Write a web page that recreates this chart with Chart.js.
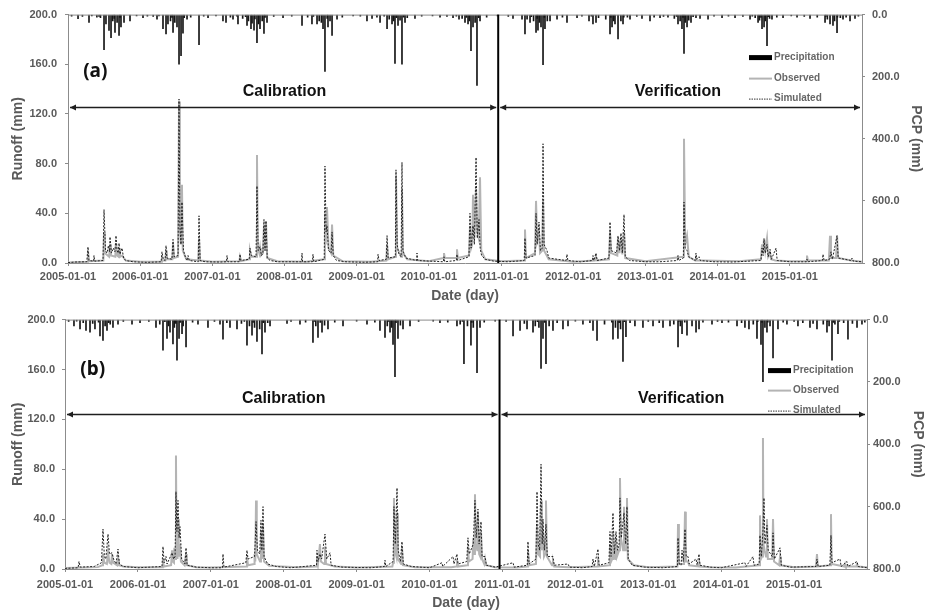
<!DOCTYPE html>
<html>
<head>
<meta charset="utf-8">
<script src="https://cdn.jsdelivr.net/npm/chart.js@4.4.1/dist/chart.umd.min.js"></script>
<style>
  body { margin: 0; background: #fff; }
  .panel { position: absolute; left: 0; width: 927px; height: 306px; }
</style>
</head>
<body>
<div class="panel" style="top:0"><canvas id="chartA" width="927" height="306"></canvas></div>
<div class="panel" style="top:306px"><canvas id="chartB" width="927" height="306"></canvas></div>
<script>
// Axis ticks
const yearTicks = [2005, 2006, 2007, 2008, 2009, 2010, 2011, 2012, 2013, 2014, 2015];
const splitYear = 2010.96; // calibration / verification boundary

// Panel (a) - runoff, [decimal year, mm]
const obsA = [
  [2005.00,0.5],[2005.27,1],[2005.277,10],[2005.29,1.5],[2005.49,2],[2005.499,25],[2005.51,8],[2005.57,5],
  [2005.582,15],[2005.595,6],[2005.655,5],[2005.665,16],[2005.68,6],[2005.70,5],[2005.707,12],[2005.72,5],
  [2005.75,6],[2005.80,2],[2006.00,1],[2006.295,1],[2006.302,6],[2006.31,2],[2006.35,2],[2006.358,10],
  [2006.37,3],[2006.445,3],[2006.455,16],[2006.47,4],[2006.525,5],[2006.538,130],[2006.55,30],[2006.565,15],
  [2006.579,63],[2006.59,10],[2006.64,3],[2006.805,2],[2006.815,20],[2006.83,2],[2007.00,1],[2007.375,1.5],
  [2007.383,5],[2007.40,1.5],[2007.51,3],[2007.521,10],[2007.54,5],[2007.605,5],[2007.618,87],[2007.63,12],
  [2007.65,8],[2007.660,12],[2007.67,6],[2007.70,8],[2007.715,30],[2007.728,10],[2007.743,33],[2007.76,4],
  [2007.90,1.5],[2008.30,1],[2008.55,3],[2008.560,40],[2008.57,15],[2008.588,45],[2008.61,12],[2008.645,8],
  [2008.658,31],[2008.675,6],[2008.80,1.5],[2009.20,1],[2009.41,2],[2009.420,15],[2009.435,3],[2009.535,5],
  [2009.544,70],[2009.56,12],[2009.615,5],[2009.627,60],[2009.64,8],[2009.70,3],[2010.00,1.5],[2010.20,4],
  [2010.209,8],[2010.22,4],[2010.38,4],[2010.389,11],[2010.40,4],[2010.555,6],[2010.569,30],[2010.585,12],
  [2010.60,15],[2010.611,55],[2010.63,20],[2010.653,60],[2010.67,25],[2010.69,20],[2010.708,69],[2010.725,10],
  [2010.78,3],[2011.00,1.5],[2011.32,2],[2011.331,27],[2011.345,4],[2011.47,8],[2011.484,50],[2011.50,18],
  [2011.525,25],[2011.54,8],[2011.57,10],[2011.581,50],[2011.595,10],[2011.66,3],[2012.00,1],[2012.30,2],
  [2012.315,5],[2012.33,2],[2012.495,3],[2012.509,25],[2012.525,8],[2012.61,6],[2012.620,20],[2012.64,8],
  [2012.661,20],[2012.68,7],[2012.703,25],[2012.72,4],[2013.00,1.5],[2013.525,5],[2013.534,100],[2013.55,15],
  [2013.576,22],[2013.60,5],[2013.69,2],[2013.70,5],[2013.71,2],[2013.80,2],[2014.30,1.5],[2014.60,3],
  [2014.615,15],[2014.63,8],[2014.643,20],[2014.66,10],[2014.684,20],[2014.70,5],[2014.726,8],[2014.74,3],
  [2014.80,2],[2015.00,1.5],[2015.23,1.5],[2015.238,6],[2015.25,2],[2015.54,2],[2015.557,22],[2015.57,4],
  [2015.64,4],[2015.654,22],[2015.67,4],[2015.85,2],[2016.00,1]
];
const simA = [
  [2005.00,0.3],[2005.10,0.8],[2005.26,1],[2005.277,13],[2005.29,2],[2005.355,1.5],[2005.360,6],[2005.37,1.5],
  [2005.485,2],[2005.499,43],[2005.52,10],[2005.54,8],[2005.56,14],[2005.575,9],[2005.582,21],[2005.60,8],
  [2005.63,12],[2005.65,9],[2005.665,22],[2005.68,10],[2005.695,8],[2005.707,16],[2005.72,7],[2005.748,12],
  [2005.77,4],[2005.80,2],[2005.90,1],[2006.10,0.5],[2006.29,1],[2006.302,9],[2006.32,3],[2006.345,2],
  [2006.358,14],[2006.37,4],[2006.44,3],[2006.455,19],[2006.47,5],[2006.525,6],[2006.538,132],[2006.55,30],
  [2006.565,15],[2006.579,49],[2006.60,10],[2006.63,4],[2006.655,2],[2006.663,6],[2006.68,2],[2006.805,1],
  [2006.815,38],[2006.83,2],[2006.90,1],[2007.10,0.8],[2007.195,1],[2007.203,6],[2007.215,1],[2007.375,1],
  [2007.383,7],[2007.395,2],[2007.51,3],[2007.521,12],[2007.54,6],[2007.605,5],[2007.618,62],[2007.635,10],
  [2007.660,13],[2007.68,6],[2007.70,8],[2007.715,35],[2007.73,10],[2007.743,34],[2007.76,4],[2007.80,2],
  [2007.90,1],[2008.235,1],[2008.242,8],[2008.25,1],[2008.386,1],[2008.394,7],[2008.405,1],[2008.55,3],
  [2008.560,78],[2008.575,25],[2008.588,30],[2008.61,10],[2008.645,8],[2008.658,25],[2008.675,6],[2008.72,2],
  [2008.85,1],[2009.10,0.6],[2009.29,1],[2009.295,7],[2009.31,2],[2009.41,3],[2009.420,22],[2009.435,4],
  [2009.535,5],[2009.544,75],[2009.56,15],[2009.58,8],[2009.615,5],[2009.627,81],[2009.64,10],[2009.68,4],
  [2009.83,2],[2009.835,8],[2009.845,2],[2010.20,1],[2010.209,5],[2010.22,1],[2010.38,2],[2010.389,7],
  [2010.40,2],[2010.555,5],[2010.569,40],[2010.585,12],[2010.611,30],[2010.63,15],[2010.653,85],[2010.67,20],
  [2010.694,35],[2010.71,12],[2010.73,6],[2010.78,3],[2010.90,1.5],[2011.10,1],[2011.32,2],[2011.331,20],
  [2011.345,4],[2011.47,6],[2011.484,40],[2011.50,15],[2011.525,33],[2011.545,10],[2011.57,12],[2011.581,96],
  [2011.595,15],[2011.636,10],[2011.66,4],[2011.90,2],[2011.913,7],[2011.925,2],[2012.10,1],[2012.265,2],
  [2012.273,6],[2012.285,2],[2012.315,8],[2012.33,2],[2012.495,4],[2012.509,33],[2012.525,10],[2012.60,8],
  [2012.620,22],[2012.64,10],[2012.661,24],[2012.68,8],[2012.703,39],[2012.72,5],[2012.78,2],[2013.00,1],
  [2013.20,1],[2013.44,2],[2013.451,6],[2013.46,2],[2013.525,4],[2013.534,49],[2013.55,12],[2013.576,10],
  [2013.60,5],[2013.69,2],[2013.700,8],[2013.71,3],[2013.742,5],[2013.76,2],[2013.95,1],[2014.20,0.8],
  [2014.60,2],[2014.615,12],[2014.63,6],[2014.643,19],[2014.66,8],[2014.684,15],[2014.70,5],[2014.726,11],
  [2014.745,3],[2014.809,12],[2014.825,2],[2015.00,1],[2015.23,1],[2015.238,3],[2015.25,1],[2015.45,2],
  [2015.460,7],[2015.475,2],[2015.55,3],[2015.571,9],[2015.59,3],[2015.654,22],[2015.67,4],[2015.85,2],
  [2015.862,4],[2015.88,1.5],[2016.00,1]
];
// Panel (a) - precipitation, [decimal year, mm]
const pcpA = [
  [2005.139,13],[2005.291,25],[2005.499,113],[2005.526,30],[2005.568,51],[2005.596,74],[2005.651,57],[2005.707,67],
  [2005.734,40],[2005.776,25],[2005.859,20],[2006.039,10],[2006.233,15],[2006.316,45],[2006.358,62],[2006.385,30],
  [2006.455,57],[2006.510,40],[2006.538,160],[2006.566,132],[2006.593,60],[2006.649,15],[2006.815,97],[2006.940,10],
  [2007.147,20],[2007.189,25],[2007.286,15],[2007.355,30],[2007.480,35],[2007.535,45],[2007.577,50],[2007.618,90],
  [2007.660,45],[2007.715,61],[2007.757,25],[2007.979,10],[2008.242,35],[2008.380,30],[2008.450,30],[2008.533,45],
  [2008.560,183],[2008.602,40],[2008.658,67],[2008.727,15],[2009.142,20],[2009.212,12],[2009.323,25],[2009.420,45],
  [2009.489,30],[2009.530,157],[2009.572,35],[2009.627,160],[2009.669,25],[2009.807,12],[2010.154,8],[2010.334,10],
  [2010.417,15],[2010.500,25],[2010.542,30],[2010.583,116],[2010.611,40],[2010.666,228],[2010.708,20],[2011.165,12],
  [2011.290,15],[2011.331,62],[2011.401,25],[2011.484,57],[2011.511,50],[2011.553,40],[2011.581,161],[2011.608,45],
  [2011.678,20],[2011.775,15],[2011.913,25],[2012.052,10],[2012.218,20],[2012.273,30],[2012.315,25],[2012.509,62],
  [2012.537,40],[2012.578,30],[2012.620,78],[2012.689,30],[2012.786,15],[2012.952,12],[2013.063,20],[2013.202,10],
  [2013.312,8],[2013.451,30],[2013.506,45],[2013.534,125],[2013.576,40],[2013.631,25],[2013.756,12],[2013.867,15],
  [2014.061,10],[2014.241,10],[2014.449,15],[2014.560,25],[2014.615,45],[2014.643,40],[2014.684,100],[2014.753,15],
  [2014.906,10],[2015.100,8],[2015.280,12],[2015.488,25],[2015.557,30],[2015.598,35],[2015.654,58],[2015.737,15],
  [2015.834,20],[2015.903,12],
  // smaller daily totals
  [2005.05,5],[2005.20,6],[2005.40,8],[2005.45,10],[2005.62,20],[2005.68,25],[2005.95,4],[2006.10,5],
  [2006.18,6],[2006.42,20],[2006.48,25],[2006.70,8],[2006.88,5],[2007.05,4],[2007.25,8],[2007.42,12],
  [2007.50,20],[2007.55,28],[2007.64,30],[2007.69,20],[2007.85,6],[2008.10,5],[2008.32,8],[2008.48,20],
  [2008.51,25],[2008.63,20],[2008.80,8],[2008.95,4],[2009.05,5],[2009.28,8],[2009.45,15],[2009.51,20],
  [2009.60,18],[2009.70,10],[2009.90,5],[2010.05,4],[2010.25,6],[2010.46,12],[2010.56,20],[2010.64,25],
  [2010.80,8],[2010.95,4],[2011.10,6],[2011.36,15],[2011.45,20],[2011.53,25],[2011.64,20],[2011.85,8],
  [2012.12,5],[2012.35,10],[2012.45,15],[2012.56,20],[2012.66,20],[2012.75,8],[2012.88,6],[2013.12,8],
  [2013.25,6],[2013.40,12],[2013.48,20],[2013.55,25],[2013.60,18],[2013.70,10],[2013.95,5],[2014.15,5],
  [2014.35,6],[2014.52,10],[2014.58,18],[2014.66,20],[2014.72,12],[2014.82,8],[2015.02,4],[2015.20,6],
  [2015.38,8],[2015.52,15],[2015.62,20],[2015.70,10],[2015.78,8],[2015.95,5],
  [2005.33,4],[2005.43,6],[2005.64,12],[2005.72,9],[2006.26,4],[2006.44,9],[2006.61,10],[2007.34,5],
  [2007.46,7],[2007.59,14],[2007.73,9],[2008.40,6],[2008.59,12],[2009.38,5],[2009.55,10],[2009.65,8],
  [2010.38,5],[2010.52,9],[2010.69,10],[2011.42,7],[2011.50,12],[2011.60,9],[2012.25,5],[2012.52,9],
  [2012.70,8],[2013.43,6],[2013.52,9],[2013.66,7],[2014.48,5],[2014.60,9],[2014.70,7],[2015.50,6],[2015.66,8]
];

// Panel (b) - runoff, [decimal year, mm]
const obsB = [
  [2005.00,0.8],[2005.45,1.5],[2005.51,3],[2005.521,12],[2005.54,5],[2005.575,4],[2005.590,14],[2005.61,5],
  [2005.635,4],[2005.645,12],[2005.66,5],[2005.715,3],[2005.727,8],[2005.74,3],[2005.80,2],[2006.00,1.5],
  [2006.335,1.5],[2006.344,8],[2006.355,2],[2006.455,3],[2006.468,15],[2006.48,6],[2006.495,5],[2006.50,17],
  [2006.51,8],[2006.522,91],[2006.53,20],[2006.543,8],[2006.550,40],[2006.56,10],[2006.577,20],[2006.59,6],
  [2006.64,3],[2006.660,12],[2006.67,3],[2006.80,1.5],[2007.00,1.2],[2007.485,2],[2007.496,10],[2007.51,3],
  [2007.595,4],[2007.60,12],[2007.61,6],[2007.620,55],[2007.63,12],[2007.675,6],[2007.688,30],[2007.70,8],
  [2007.716,35],[2007.73,6],[2007.80,2.5],[2008.20,1.5],[2008.445,2],[2008.456,10],[2008.47,4],[2008.497,20],
  [2008.51,6],[2008.555,4],[2008.566,18],[2008.58,4],[2008.70,2],[2009.00,1.2],[2009.49,2],[2009.50,5],
  [2009.512,57],[2009.525,15],[2009.545,10],[2009.554,45],[2009.565,8],[2009.61,4],[2009.622,18],[2009.635,3],
  [2009.80,1.5],[2010.30,1.5],[2010.365,2],[2010.376,8],[2010.39,2],[2010.515,3],[2010.527,18],[2010.54,6],
  [2010.59,8],[2010.60,25],[2010.61,12],[2010.623,60],[2010.635,20],[2010.655,15],[2010.664,45],[2010.68,12],
  [2010.695,10],[2010.706,30],[2010.72,8],[2010.75,4],[2010.761,8],[2010.775,3],[2010.90,1.5],[2011.20,1.2],
  [2011.34,2],[2011.350,15],[2011.365,3],[2011.46,4],[2011.474,35],[2011.49,12],[2011.515,10],[2011.529,55],
  [2011.54,15],[2011.556,30],[2011.57,10],[2011.585,12],[2011.597,55],[2011.61,10],[2011.68,3],[2011.693,6],
  [2011.71,2],[2011.90,1.5],[2012.30,2],[2012.310,10],[2012.32,2],[2012.465,3],[2012.475,20],[2012.49,6],
  [2012.505,8],[2012.516,30],[2012.53,10],[2012.545,8],[2012.557,25],[2012.57,10],[2012.60,15],[2012.612,73],
  [2012.625,25],[2012.655,15],[2012.667,50],[2012.68,15],[2012.695,15],[2012.708,57],[2012.72,8],[2012.80,3],
  [2013.00,1.5],[2013.40,2],[2013.408,36],[2013.42,4],[2013.49,4],[2013.504,46],[2013.515,6],[2013.545,6],
  [2013.56,3],[2013.69,2],[2013.70,5],[2013.71,2],[2013.85,1.5],[2014.20,1.2],[2014.52,3],[2014.532,43],
  [2014.545,8],[2014.56,10],[2014.573,105],[2014.58,20],[2014.595,15],[2014.615,10],[2014.628,40],[2014.64,8],
  [2014.70,8],[2014.711,40],[2014.725,6],[2014.795,3],[2014.807,10],[2014.82,3],[2015.00,1.5],[2015.30,2],
  [2015.314,12],[2015.325,2],[2015.495,3],[2015.506,44],[2015.515,4],[2015.69,2],[2015.70,4],[2015.71,2],
  [2015.85,2],[2015.86,5],[2015.87,2],[2016.00,1.5]
];
const simB = [
  [2005.00,0.5],[2005.18,1],[2005.192,6],[2005.21,1.5],[2005.40,2],[2005.50,5],[2005.521,32],[2005.54,10],
  [2005.56,8],[2005.590,28],[2005.61,12],[2005.645,13],[2005.665,8],[2005.70,4],[2005.727,16],[2005.745,4],
  [2005.80,2],[2006.00,1],[2006.33,2],[2006.344,18],[2006.36,5],[2006.385,10],[2006.40,4],[2006.468,13],
  [2006.49,8],[2006.51,10],[2006.522,62],[2006.535,30],[2006.550,55],[2006.565,25],[2006.577,34],[2006.60,8],
  [2006.645,4],[2006.660,17],[2006.675,3],[2006.80,1.5],[2007.00,1],[2007.16,1],[2007.167,12],[2007.18,1.5],
  [2007.48,5],[2007.496,15],[2007.51,8],[2007.60,10],[2007.620,38],[2007.64,15],[2007.67,12],[2007.688,39],
  [2007.70,15],[2007.716,50],[2007.73,10],[2007.78,4],[2007.90,2],[2008.10,1],[2008.45,3],[2008.456,15],
  [2008.47,6],[2008.497,12],[2008.52,8],[2008.566,28],[2008.59,8],[2008.635,13],[2008.65,3],[2008.80,1.5],
  [2009.20,1],[2009.38,2],[2009.389,7],[2009.40,2],[2009.50,6],[2009.512,50],[2009.53,20],[2009.554,65],
  [2009.57,15],[2009.60,6],[2009.622,22],[2009.64,4],[2009.75,2],[2010.00,1],[2010.171,5],[2010.18,2],
  [2010.322,10],[2010.335,4],[2010.376,12],[2010.39,4],[2010.51,6],[2010.527,25],[2010.545,12],[2010.60,20],
  [2010.623,55],[2010.64,25],[2010.664,48],[2010.68,20],[2010.706,38],[2010.72,10],[2010.761,10],[2010.78,3],
  [2010.90,1.5],[2011.145,5],[2011.16,1.5],[2011.34,3],[2011.350,22],[2011.365,4],[2011.46,8],[2011.474,62],
  [2011.49,20],[2011.51,15],[2011.529,84],[2011.545,20],[2011.556,40],[2011.575,15],[2011.597,36],[2011.615,10],
  [2011.693,10],[2011.71,3],[2011.899,4],[2011.92,1.5],[2012.10,1],[2012.23,2],[2012.242,8],[2012.26,2],
  [2012.310,16],[2012.325,3],[2012.46,5],[2012.475,30],[2012.49,10],[2012.516,45],[2012.535,12],[2012.557,30],
  [2012.58,15],[2012.60,20],[2012.612,57],[2012.63,25],[2012.667,45],[2012.69,20],[2012.708,50],[2012.725,8],
  [2012.78,3],[2012.95,1.5],[2013.20,1],[2013.40,2],[2013.408,25],[2013.425,4],[2013.45,3],[2013.463,15],
  [2013.48,6],[2013.504,32],[2013.52,10],[2013.545,10],[2013.56,4],[2013.655,8],[2013.67,3],[2013.696,12],
  [2013.71,3],[2013.85,1.5],[2014.00,1],[2014.326,5],[2014.34,2],[2014.436,10],[2014.45,3],[2014.52,4],
  [2014.532,27],[2014.55,10],[2014.573,30],[2014.587,57],[2014.60,20],[2014.628,35],[2014.645,15],[2014.70,10],
  [2014.711,29],[2014.73,8],[2014.807,17],[2014.825,3],[2014.95,1.5],[2015.30,2],[2015.314,8],[2015.33,2],
  [2015.49,3],[2015.506,27],[2015.52,5],[2015.630,8],[2015.645,2],[2015.725,6],[2015.74,2],[2015.863,6],
  [2015.88,2],[2016.00,1]
];
// Panel (b) - precipitation, [decimal year, mm]
const pcpB = [
  [2005.123,20],[2005.206,30],[2005.288,35],[2005.343,40],[2005.411,30],[2005.480,52],[2005.521,67],[2005.576,35],
  [2005.658,25],[2005.727,15],[2005.919,15],[2006.029,10],[2006.248,25],[2006.344,98],[2006.399,60],[2006.440,40],
  [2006.481,78],[2006.536,130],[2006.564,60],[2006.605,45],[2006.660,88],[2006.824,15],[2006.961,25],[2007.126,15],
  [2007.167,63],[2007.263,25],[2007.359,30],[2007.496,82],[2007.565,50],[2007.633,70],[2007.702,110],[2007.743,40],
  [2007.812,20],[2008.045,12],[2008.223,15],[2008.401,73],[2008.470,57],[2008.525,40],[2008.607,30],[2008.813,20],
  [2009.142,15],[2009.320,35],[2009.389,57],[2009.458,40],[2009.499,80],[2009.526,183],[2009.567,60],[2009.636,30],
  [2009.732,20],[2010.143,10],[2010.376,20],[2010.472,141],[2010.568,82],[2010.651,170],[2010.692,25],[2011.145,52],
  [2011.241,35],[2011.337,30],[2011.419,40],[2011.529,157],[2011.556,60],[2011.597,141],[2011.693,35],[2011.830,30],
  [2011.899,20],[2012.104,15],[2012.242,35],[2012.297,67],[2012.516,63],[2012.584,60],[2012.653,134],[2012.694,55],
  [2012.817,20],[2012.927,25],[2013.065,20],[2013.202,25],[2013.298,20],[2013.408,88],[2013.463,45],[2013.531,50],
  [2013.655,40],[2013.696,30],[2013.874,15],[2014.011,10],[2014.217,20],[2014.326,25],[2014.381,30],[2014.491,60],
  [2014.546,80],[2014.573,199],[2014.628,40],[2014.711,123],[2014.779,30],[2014.902,15],[2015.053,20],[2015.218,25],
  [2015.314,30],[2015.451,40],[2015.520,130],[2015.602,45],[2015.739,63],[2015.863,25],[2015.931,15],
  // smaller daily totals
  [2005.05,6],[2005.25,10],[2005.38,12],[2005.55,20],[2005.62,15],[2005.80,6],[2006.15,6],[2006.30,15],
  [2006.42,20],[2006.50,25],[2006.62,20],[2006.75,8],[2007.05,6],[2007.22,10],[2007.42,12],[2007.53,20],
  [2007.60,25],[2007.67,30],[2007.78,10],[2008.10,6],[2008.30,8],[2008.44,20],[2008.56,18],[2008.70,8],
  [2009.00,5],[2009.25,8],[2009.42,20],[2009.48,25],[2009.60,18],[2009.85,6],[2010.05,5],[2010.25,8],
  [2010.42,15],[2010.52,20],[2010.60,25],[2010.75,8],[2010.90,5],[2011.05,6],[2011.30,12],[2011.45,20],
  [2011.50,25],[2011.64,20],[2011.75,10],[2012.00,5],[2012.20,10],[2012.40,15],[2012.55,25],[2012.62,30],
  [2012.75,10],[2013.00,6],[2013.15,10],[2013.35,15],[2013.44,20],[2013.60,20],[2013.75,8],[2013.95,6],
  [2014.10,8],[2014.28,10],[2014.44,15],[2014.60,25],[2014.67,20],[2014.85,8],[2015.00,6],[2015.12,10],
  [2015.26,12],[2015.40,15],[2015.48,20],[2015.56,15],[2015.68,10],[2015.80,12],[2015.97,8],
  [2005.16,5],[2005.46,8],[2005.60,10],[2006.37,7],[2006.52,12],[2006.58,9],[2007.46,6],[2007.58,9],
  [2007.72,10],[2008.42,6],[2008.50,9],[2009.44,6],[2009.54,10],[2010.45,6],[2010.58,9],[2011.48,7],
  [2011.58,9],[2012.50,8],[2012.60,10],[2012.67,7],[2013.42,6],[2013.50,8],[2014.50,7],[2014.56,9],
  [2014.64,8],[2015.46,6],[2015.54,9],[2015.62,6]
];

const textGray = '#5a5a5a';
const axisGray = '#8c8c8c';
const labelFont = '"Liberation Sans", Arial, sans-serif';

function toPoints(pairs) {
    return pairs.map(p => ({ x: p[0], y: p[1] }));
}

function arrowHead(ctx, x, y, dir) {
    ctx.beginPath();
    ctx.moveTo(x, y);
    ctx.lineTo(x - dir * 6, y - 3);
    ctx.lineTo(x - dir * 6, y + 3);
    ctx.closePath();
    ctx.fill();
}

function doubleArrow(ctx, x1, x2, y) {
    ctx.beginPath();
    ctx.moveTo(x1, y);
    ctx.lineTo(x2, y);
    ctx.stroke();
    arrowHead(ctx, x1, y, -1);
    arrowHead(ctx, x2, y, 1);
}

// Draws split line, period arrows, labels and the in-plot legend
const markupPlugin = {
    id: 'markup',
    afterDatasetsDraw(chart, args, opts) {
        const { ctx, chartArea: area, scales: { x, y } } = chart;
        ctx.save();

        // top frame line
        ctx.strokeStyle = axisGray;
        ctx.lineWidth = 1;
        ctx.beginPath();
        ctx.moveTo(area.left, area.top + 0.5);
        ctx.lineTo(area.right, area.top + 0.5);
        ctx.stroke();

        // calibration / verification split
        const sx = x.getPixelForValue(splitYear);
        ctx.strokeStyle = '#000';
        ctx.lineWidth = 2;
        ctx.beginPath();
        ctx.moveTo(sx, area.top);
        ctx.lineTo(sx, area.bottom);
        ctx.stroke();

        // period arrows
        const ay = Math.round(y.getPixelForValue(opts.arrowY)) + 0.5;
        ctx.strokeStyle = '#1e1e1e';
        ctx.fillStyle = '#1e1e1e';
        ctx.lineWidth = 1.5;
        doubleArrow(ctx, area.left + 2, sx - 2, ay);
        doubleArrow(ctx, sx + 2, area.right - 2, ay);

        // period titles
        ctx.fillStyle = '#111';
        ctx.textAlign = 'center';
        ctx.textBaseline = 'middle';
        ctx.font = 'bold 16px ' + labelFont;
        ctx.fillText('Calibration', x.getPixelForValue(2008.0), y.getPixelForValue(opts.titleY));
        ctx.fillText('Verification', x.getPixelForValue(2013.45), y.getPixelForValue(opts.titleY));

        // panel letter
        ctx.textAlign = 'left';
        ctx.font = 'bold 19px "Noto Sans", "Open Sans", sans-serif';
        ctx.fillText(opts.letter, x.getPixelForValue(2005.21), y.getPixelForValue(opts.letterY));

        // legend
        const lx = area.right - opts.legendRight;
        const rows = opts.legendRows.map(v => area.top + v);
        ctx.font = 'bold 10px ' + labelFont;
        ctx.fillStyle = '#666';
        ctx.fillText('Precipitation', lx + 25, rows[0]);
        ctx.fillText('Observed', lx + 25, rows[1]);
        ctx.fillText('Simulated', lx + 25, rows[2]);

        ctx.fillStyle = '#000';
        ctx.fillRect(lx, rows[0] - 2.5, 23, 5);

        ctx.strokeStyle = '#b4b4b4';
        ctx.lineWidth = 2;
        ctx.beginPath();
        ctx.moveTo(lx, rows[1]);
        ctx.lineTo(lx + 23, rows[1]);
        ctx.stroke();

        ctx.strokeStyle = '#333';
        ctx.lineWidth = 1;
        ctx.setLineDash([1.5, 1]);
        ctx.beginPath();
        ctx.moveTo(lx, rows[2] + 0.5);
        ctx.lineTo(lx + 23, rows[2] + 0.5);
        ctx.stroke();

        ctx.restore();
    },
};

function createPanel(canvasId, obs, sim, pcp, box) {
    const ctx = document.getElementById(canvasId).getContext('2d');
    const tickFont = { family: labelFont, size: 11, weight: 'bold' };
    const titleFont = { family: labelFont, size: 14, weight: 'bold' };

    return new Chart(ctx, {
        type: 'line',
        data: {
            datasets: [
                {
                    type: 'bar',
                    label: 'Precipitation',
                    data: toPoints(pcp),
                    yAxisID: 'yP',
                    backgroundColor: '#151515',
                    barThickness: 1,
                    grouped: false,
                    order: 2,
                },
                {
                    label: 'Observed',
                    data: toPoints(obs),
                    yAxisID: 'y',
                    borderColor: '#b4b4b4',
                    borderWidth: 2,
                    pointRadius: 0,
                    tension: 0,
                    order: 1,
                },
                {
                    label: 'Simulated',
                    data: toPoints(sim),
                    yAxisID: 'y',
                    borderColor: '#222',
                    borderWidth: 1,
                    borderDash: [2, 1.5],
                    pointRadius: 0,
                    tension: 0,
                    order: 0,
                },
            ],
        },
        options: {
            responsive: false,
            animation: false,
            events: [],
            layout: { padding: { top: box.top, left: 0, right: 0, bottom: 0 } },
            plugins: {
                legend: { display: false },
                tooltip: { enabled: false },
                markup: box.markup,
            },
            scales: {
                x: {
                    type: 'linear',
                    min: 2005,
                    max: 2016,
                    offset: false,
                    afterBuildTicks: scale => { scale.ticks = yearTicks.map(v => ({ value: v })); },
                    afterFit: scale => { scale.height = 306 - box.bottom; },
                    ticks: {
                        callback: v => v + '-01-01',
                        font: tickFont,
                        color: textGray,
                        padding: box.xPad,
                        maxRotation: 0,
                        autoSkip: false,
                    },
                    grid: { offset: false, drawOnChartArea: false, tickLength: 3, color: axisGray },
                    border: { color: axisGray },
                    title: { display: true, text: 'Date (day)', font: titleFont, color: textGray, padding: { top: 0, bottom: box.xTitlePad } },
                },
                y: {
                    position: 'left',
                    min: 0,
                    max: 200,
                    afterFit: scale => { scale.width = box.left; },
                    ticks: { stepSize: 40, callback: v => v.toFixed(1), font: tickFont, color: textGray, padding: box.yPad },
                    grid: { drawOnChartArea: false, tickLength: 3, color: axisGray },
                    border: { color: axisGray },
                    title: { display: true, text: 'Runoff (mm)', font: titleFont, color: textGray, padding: { top: 10, bottom: 0 } },
                },
                yP: {
                    position: 'right',
                    reverse: true,
                    min: 0,
                    max: 800,
                    afterFit: scale => { scale.width = 927 - box.right; },
                    ticks: { stepSize: 200, callback: v => v.toFixed(1), font: tickFont, color: textGray, padding: box.pPad },
                    grid: { drawOnChartArea: false, tickLength: 3, color: axisGray },
                    border: { color: axisGray },
                    title: { display: true, text: 'PCP (mm)', font: titleFont, color: textGray, padding: { top: box.pTitlePad, bottom: 0 } },
                },
            },
        },
        plugins: [markupPlugin],
    });
}

createPanel('chartA', obsA, simA, pcpA, {
    top: 14, bottom: 263, left: 68, right: 862,
    xPad: 4, xTitlePad: 1, yPad: 8, pPad: 7, pTitlePad: 3,
    markup: { arrowY: 125.3, titleY: 138, letter: '(a)', letterY: 154, legendRight: 113, legendRows: [43, 64, 84] },
});
createPanel('chartB', obsB, simB, pcpB, {
    top: 11, bottom: 263, left: 65, right: 867,
    xPad: 6, xTitlePad: 0, yPad: 7, pPad: 3, pTitlePad: 1,
    markup: { arrowY: 123.9, titleY: 136.6, letter: '(b)', letterY: 159.6, legendRight: 99, legendRows: [51, 71, 91] },
});
</script>
</body>
</html>
